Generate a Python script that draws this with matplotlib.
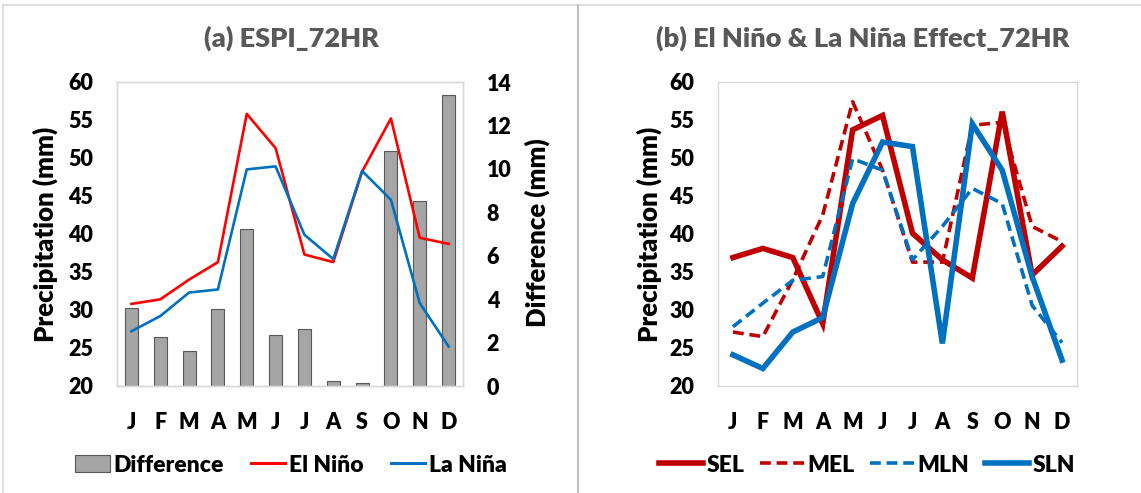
import matplotlib
matplotlib.use("Agg")
import matplotlib.pyplot as plt
from matplotlib.lines import Line2D
from matplotlib.patches import Patch
import numpy as np

# data
months = ["J", "F", "M", "A", "M", "J", "J", "A", "S", "O", "N", "D"]

el_nino = [30.8, 31.4, 34.0, 36.3, 55.8, 51.3, 37.3, 36.3, 48.2, 55.2, 39.5, 38.7]
la_nina = [27.2, 29.2, 32.3, 32.7, 48.5, 48.9, 39.9, 36.7, 48.3, 44.5, 30.9, 25.2]
difference = [3.6, 2.26, 1.62, 3.55, 7.22, 2.33, 2.63, 0.24, 0.12, 10.83, 8.52, 13.42]

sel = [36.9, 38.1, 36.9, 28.2, 53.7, 55.6, 40.1, 36.6, 34.2, 56.1, 34.6, 38.4]
mel = [27.1, 26.5, 34.0, 42.5, 57.4, 48.4, 36.3, 36.3, 54.3, 54.7, 41.0, 39.0]
mln = [27.8, 30.9, 33.9, 34.4, 49.9, 48.4, 36.6, 41.0, 46.0, 44.0, 30.6, 25.7]
sln = [24.1, 22.3, 27.1, 29.0, 44.0, 52.1, 51.5, 25.6, 54.5, 48.4, 34.4, 23.4]

precip_ticks = [20, 25, 30, 35, 40, 45, 50, 55, 60]
diff_ticks = [0, 2, 4, 6, 8, 10, 12, 14]

RED = "#FF0000"
DARK_RED = "#C00000"
BLUE = "#0070C0"
GRAY = "#A5A5A5"
FRAME = "#D9D9D9"
WEIGHT = "heavy"

plt.rcParams["font.family"] = ["Lato", "DejaVu Sans"]
plt.rcParams["font.weight"] = WEIGHT

W, H = 1141, 493
fig = plt.figure(figsize=(W / 100, H / 100), dpi=100)


def px_axes(x0, y0, x1, y1):
    return fig.add_axes([x0 / W, 1 - y1 / H, (x1 - x0) / W, (y1 - y0) / H])


def px_text(xp, yp, s, **kw):
    return fig.text(xp / W, 1 - yp / H, s, ha="center", va="center",
                    fontweight=WEIGHT, **kw)


def style_axis(ax):
    for s in ax.spines.values():
        s.set_color(FRAME)
        s.set_linewidth(1.0)
    ax.tick_params(length=0, labelsize=15.5, pad=17)
    ax.tick_params(axis="x", pad=19)
    for lab in ax.get_xticklabels() + ax.get_yticklabels():
        lab.set_fontweight(WEIGHT)


x = np.arange(len(months))

# ---------------- panel (a) ----------------
ax = px_axes(117, 82, 463, 386)
ax2 = ax.twinx()
ax2.bar(x, difference, width=0.45, color=GRAY, edgecolor="#595959", linewidth=0.8)
ax2.set_ylim(0, 14)
ax2.set_yticks(diff_ticks)

ax.plot(x, el_nino, color=RED, lw=1.9)
ax.plot(x, la_nina, color=BLUE, lw=1.9)
ax.set_ylim(20, 60)
ax.set_yticks(precip_ticks)
ax.set_xlim(-0.5, len(months) - 0.5)
ax.set_xticks(x)
ax.set_xticklabels(months)
ax.set_zorder(ax2.get_zorder() + 1)
ax.patch.set_visible(False)
style_axis(ax)
style_axis(ax2)

px_text(45, 234, "Precipitation (mm)", rotation=90, fontsize=18.5)
px_text(537, 233, "Difference (mm)", rotation=90, fontsize=18.5)
px_text(291, 38, "(a) ESPI_72HR", fontsize=19.5, color="#595959")

handles_a = [
    Patch(facecolor=GRAY, edgecolor="#595959", linewidth=0.8, label="Difference"),
    Line2D([], [], color=RED, lw=2.2, label="El Niño"),
    Line2D([], [], color=BLUE, lw=2.2, label="La Niña"),
]
fig.legend(handles=handles_a, loc="center", bbox_to_anchor=(291 / W, 1 - 465 / H),
           ncol=3, frameon=False, fontsize=16.5, handlelength=1.5, handleheight=0.7,
           handletextpad=0.15, columnspacing=1.2)

# ---------------- panel (b) ----------------
bx = px_axes(718, 82, 1077, 386)
bx.plot(x, sel, color=DARK_RED, lw=4.0, solid_joinstyle="miter")
bx.plot(x, mel, color=DARK_RED, lw=2.6, ls=(0, (3, 1.6)))
bx.plot(x, mln, color=BLUE, lw=2.6, ls=(0, (3, 1.6)))
bx.plot(x, sln, color=BLUE, lw=4.0, solid_joinstyle="miter")
bx.set_ylim(20, 60)
bx.set_yticks(precip_ticks)
bx.set_xlim(-0.5, len(months) - 0.5)
bx.set_xticks(x)
bx.set_xticklabels(months)
style_axis(bx)

px_text(649, 234, "Precipitation (mm)", rotation=90, fontsize=18.5)
px_text(863, 38, "(b) El Niño & La Niña Effect_72HR", fontsize=19.5, color="#595959")

handles_b = [
    Line2D([], [], color=DARK_RED, lw=4.0, label="SEL"),
    Line2D([], [], color=DARK_RED, lw=2.6, ls=(0, (3, 1.6)), label="MEL"),
    Line2D([], [], color=BLUE, lw=2.6, ls=(0, (3, 1.6)), label="MLN"),
    Line2D([], [], color=BLUE, lw=4.0, label="SLN"),
]
fig.legend(handles=handles_b, loc="center", bbox_to_anchor=(867 / W, 1 - 465 / H),
           ncol=4, frameon=False, fontsize=16.5, handlelength=1.9,
           handletextpad=0.15, columnspacing=0.7)

# frame lines around the two panels
fig.add_artist(Line2D([3 / W, 3 / W], [0, 1 - 5 / H], color=FRAME, lw=1.2))
fig.add_artist(Line2D([3 / W, 1], [1 - 5 / H, 1 - 5 / H], color=FRAME, lw=1.2))
fig.add_artist(Line2D([578 / W, 578 / W], [0, 1 - 5 / H], color="#BFBFBF", lw=1.5))

fig.savefig("out.png", dpi=100)
